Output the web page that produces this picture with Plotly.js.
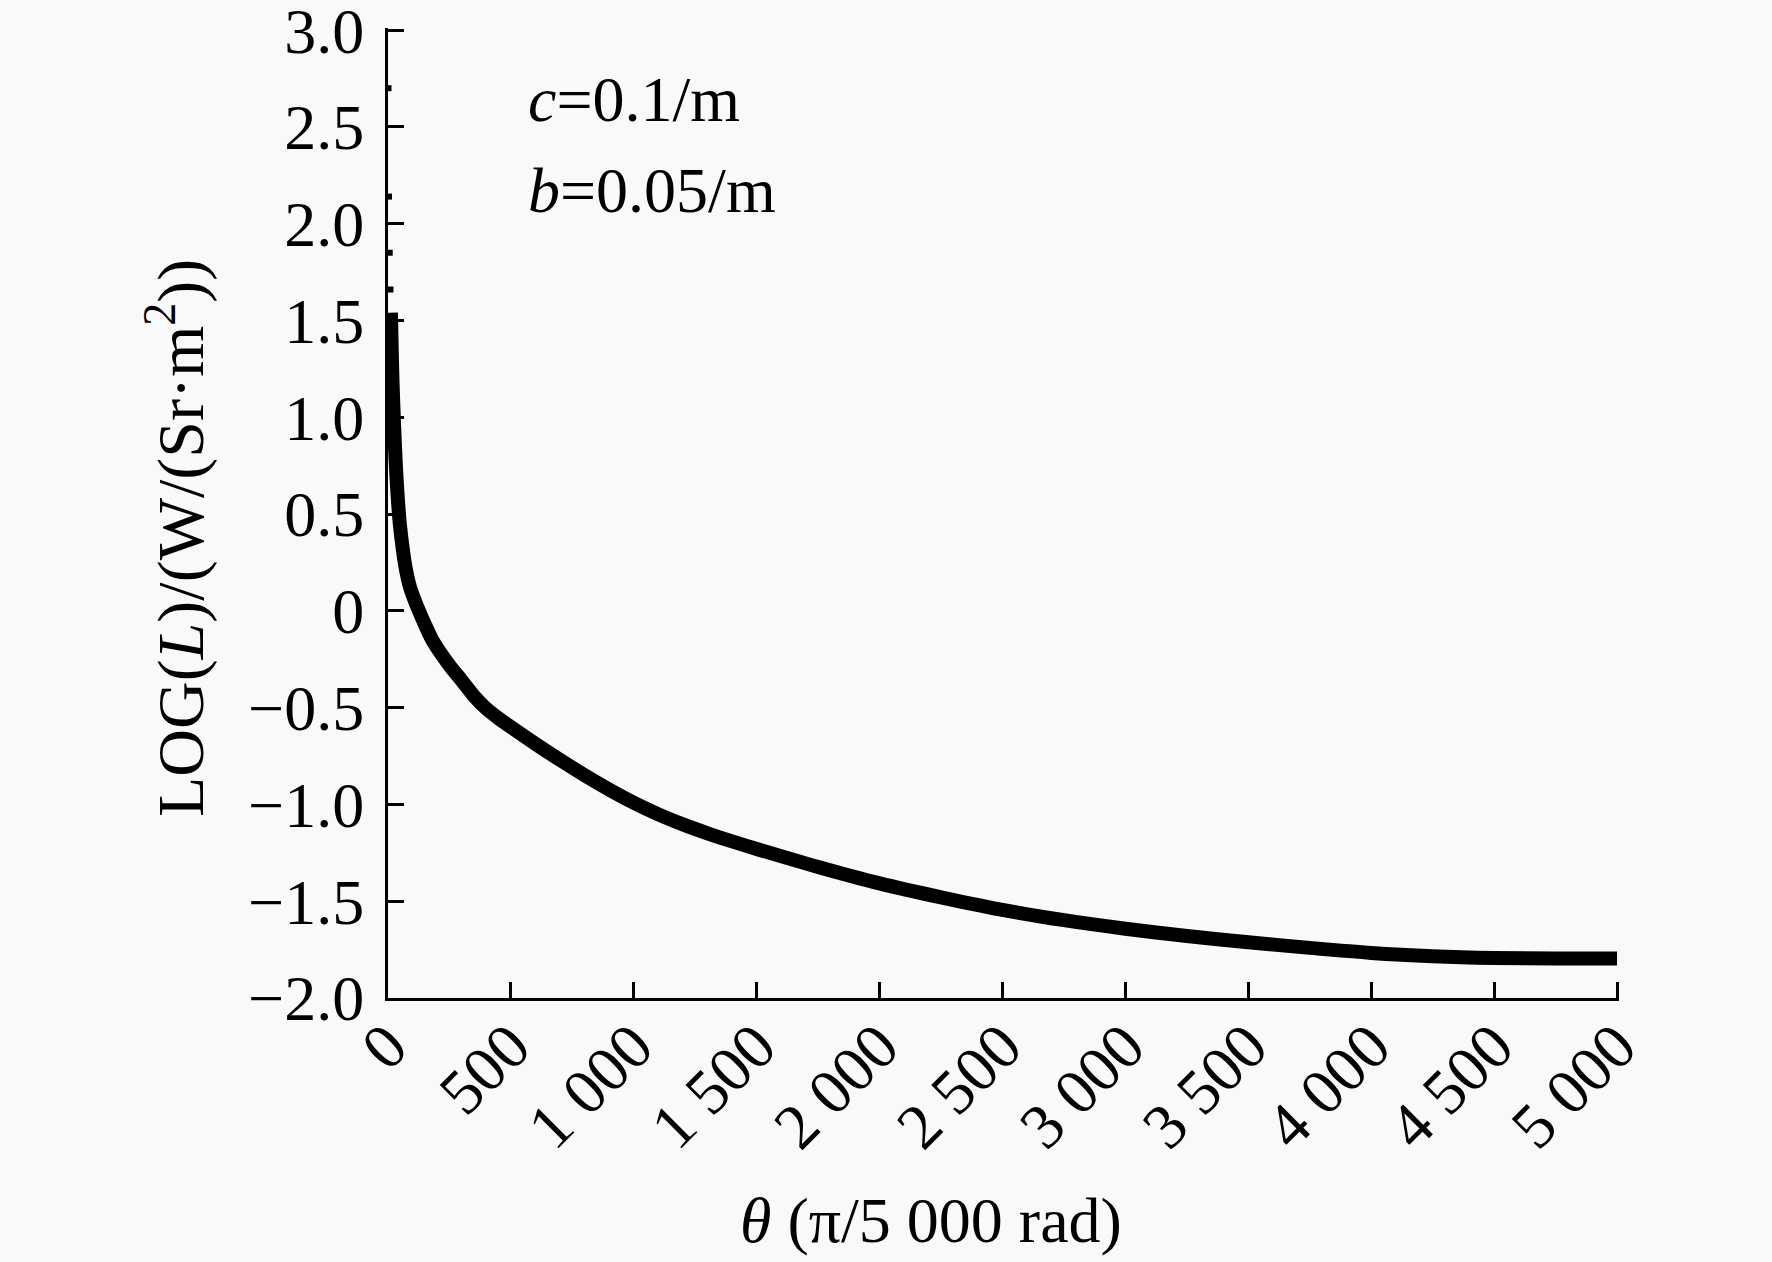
<!DOCTYPE html>
<html>
<head>
<meta charset="utf-8">
<script src="https://cdn.plot.ly/plotly-3.0.1.min.js"></script>
<style>
  html, body { margin: 0; padding: 0; background: #f9f9f9; }
  #chart { width: 1772px; height: 1262px; }
</style>
</head>
<body>
<div id="chart"></div>
<script>
// Sparse first samples near the axis (drawn as dots)
const thetaHead = [2, 4, 7, 10];
const logLHead = [2.70, 2.14, 1.85, 1.66];

// Main curve
const theta = [12, 15, 18, 22, 25, 32, 40, 48, 60, 72, 90, 110, 126, 150, 180, 215, 255, 300, 350, 400,
  450, 500, 600, 700, 800, 900, 1000, 1100, 1200, 1300, 1400, 1500, 1750, 2000, 2250, 2500, 2750,
  3000, 3250, 3500, 3750, 4000, 4250, 4500, 4750, 5000];
const logL = [1.54, 1.36, 1.20, 1.05, 0.95, 0.75, 0.58, 0.45, 0.32, 0.22, 0.12, 0.05, 0.00, -0.07, -0.15,
  -0.22, -0.29, -0.36, -0.44, -0.505, -0.555, -0.60, -0.687, -0.770, -0.849, -0.923, -0.991, -1.051,
  -1.103, -1.149, -1.191, -1.230, -1.323, -1.408, -1.480, -1.545, -1.598, -1.642, -1.680, -1.712,
  -1.741, -1.767, -1.784, -1.793, -1.796, -1.796];

// Tick labels
const xTickVals = [0, 500, 1000, 1500, 2000, 2500, 3000, 3500, 4000, 4500, 5000];
const xTickText = ['0', '500', '1 000', '1 500', '2 000', '2 500', '3 000', '3 500', '4 000', '4 500', '5 000'];
const yTickVals = [3.0, 2.5, 2.0, 1.5, 1.0, 0.5, 0, -0.5, -1.0, -1.5, -2.0];
const yTickText = ['3.0', '2.5', '2.0', '1.5', '1.0', '0.5', '0', '\u22120.5', '\u22121.0', '\u22121.5', '\u22122.0'];

const FONT = 'Liberation Serif, Times New Roman, serif';
const FS = 64;

const traces = [
  {
    x: thetaHead, y: logLHead, type: 'scatter', mode: 'markers',
    marker: { symbol: 'square', size: 6, color: '#000' },
    cliponaxis: false, showlegend: false, hoverinfo: 'skip'
  },
  {
    x: theta, y: logL, type: 'scatter', mode: 'lines',
    line: { color: '#000', width: 14, shape: 'spline', smoothing: 0.8 },
    showlegend: false, hoverinfo: 'skip'
  }
];

const axisCommon = {
  showgrid: false, zeroline: false, showline: true, linecolor: '#000', linewidth: 3,
  ticks: 'inside', ticklen: 16, tickwidth: 3, tickcolor: '#000',
  tickfont: { family: FONT, size: FS, color: '#000' },
  tickmode: 'array', fixedrange: true, ticklabeloverflow: 'allow'
};

const layout = {
  width: 1772, height: 1262,
  margin: { l: 388, r: 153, t: 28, b: 264 },
  paper_bgcolor: '#f9f9f9', plot_bgcolor: '#f9f9f9',
  font: { family: FONT, size: FS, color: '#000' },
  xaxis: Object.assign({}, axisCommon, {
    range: [0, 5008], tickvals: xTickVals, ticktext: xTickText, tickangle: -45,
    ticklabelstandoff: -18
  }),
  yaxis: Object.assign({}, axisCommon, {
    range: [-2.0, 3.011], tickvals: yTickVals, ticktext: yTickText,
    ticklabelstandoff: 8
  }),
  annotations: [
    { xref: 'paper', yref: 'paper', x: 0.112, y: 0.926, xanchor: 'left', yanchor: 'middle',
      text: '<i>c</i>=0.1/m', showarrow: false, font: { family: FONT, size: FS, color: '#000' } },
    { xref: 'paper', yref: 'paper', x: 0.112, y: 0.832, xanchor: 'left', yanchor: 'middle',
      text: '<i>b</i>=0.05/m', showarrow: false, font: { family: FONT, size: FS, color: '#000' } },
    { xref: 'paper', yref: 'paper', x: (931 - 388) / 1231, y: -(1220 - 998) / 970, xanchor: 'center', yanchor: 'middle',
      text: '<i>θ</i> (π/5 000 rad)', showarrow: false, font: { family: FONT, size: FS, color: '#000' } },
    { xref: 'paper', yref: 'paper', x: -(388 - 176) / 1231, y: (998 - 538) / 970, xanchor: 'center', yanchor: 'middle',
      textangle: -90, text: 'LOG(<i>L</i>)/(W/(Sr·m<sup>2</sup>))', showarrow: false,
      font: { family: FONT, size: 66, color: '#000' } }
  ]
};

Plotly.newPlot('chart', traces, layout, { staticPlot: true, displayModeBar: false });
</script>
</body>
</html>
